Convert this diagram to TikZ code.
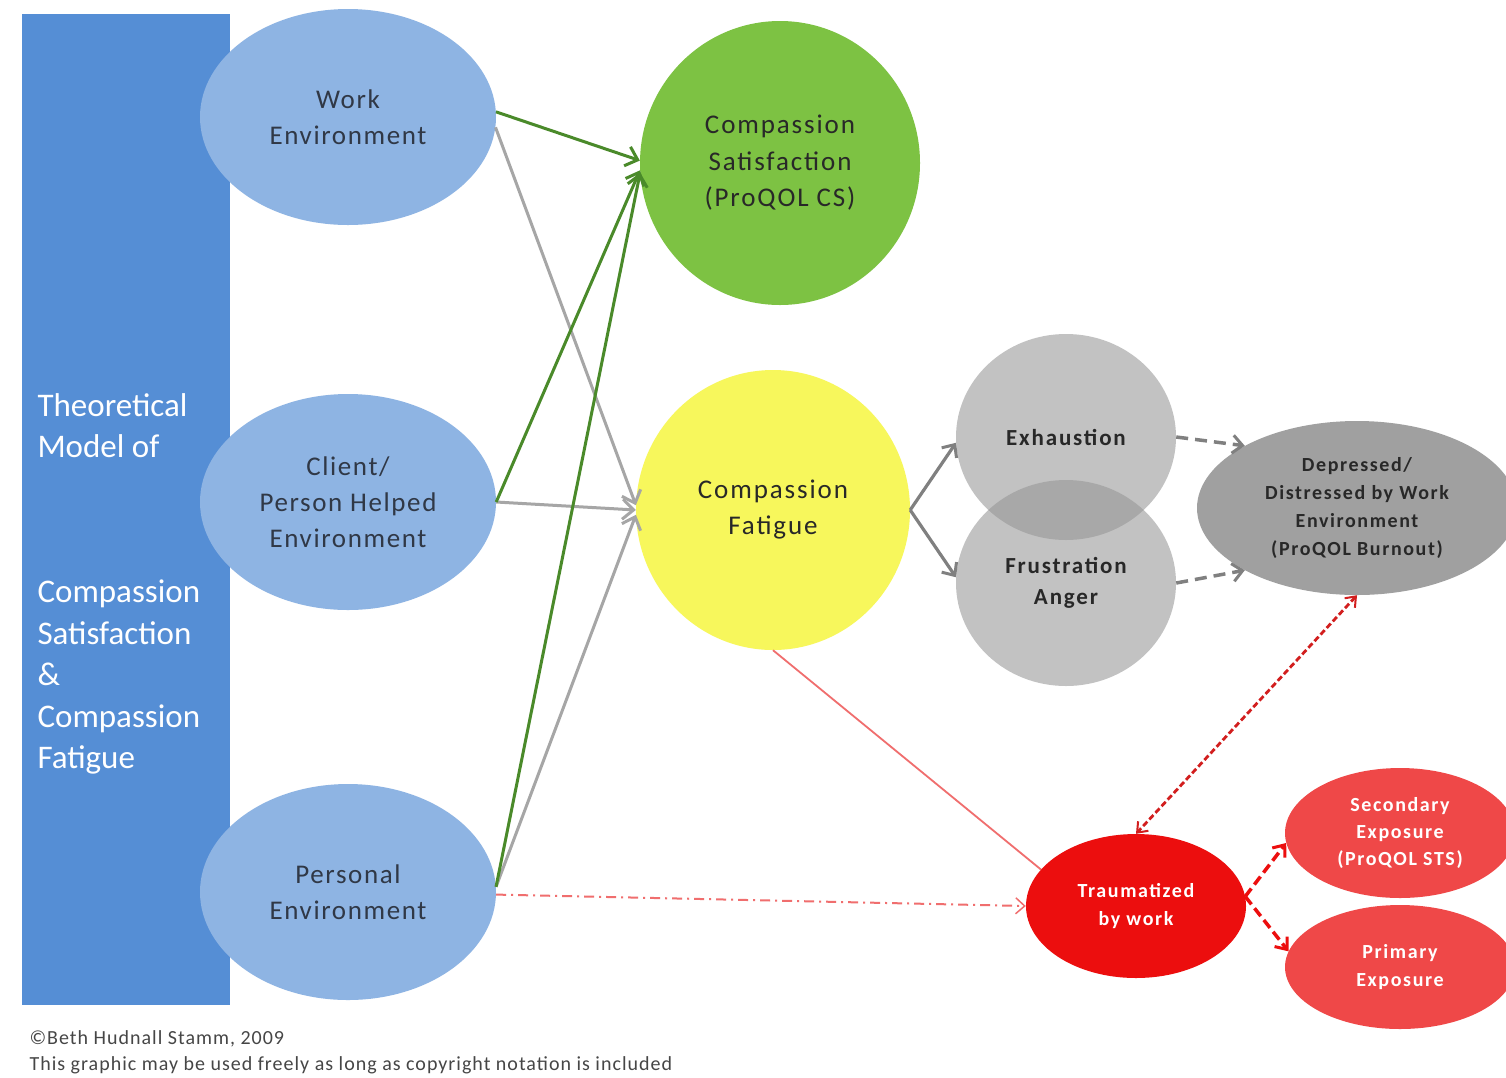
\documentclass[tikz,border=0pt]{standalone}
\usepackage{fontspec}
\setmainfont{Carlito}
\usetikzlibrary{shapes.geometric,arrows.meta}
\definecolor{panelblue}{RGB}{85,142,213}
\definecolor{lblue}{RGB}{142,180,227}
\definecolor{csgreen}{RGB}{125,194,67}
\definecolor{cfyellow}{RGB}{247,247,92}
\definecolor{midgray}{RGB}{149,149,149}
\definecolor{dpgray}{RGB}{160,160,160}
\definecolor{twred}{RGB}{236,14,14}
\definecolor{lred}{RGB}{239,72,72}
\definecolor{txt}{RGB}{40,40,40}
\definecolor{envtxt}{RGB}{48,56,70}
\definecolor{cptxt}{RGB}{70,70,70}
\definecolor{agreen}{RGB}{74,138,42}
\definecolor{agray}{RGB}{166,166,166}
\definecolor{dgray}{RGB}{128,128,128}
\definecolor{thinred}{RGB}{240,110,110}
\definecolor{darkred}{RGB}{210,30,30}
\begin{document}
\begin{tikzpicture}[x=1pt,y=-1pt,
  ell/.style={ellipse, inner sep=0pt, align=center, text=txt},
  envell/.style={ell, fill=lblue, text=envtxt, minimum width=296pt, minimum height=216pt, font=\fontsize{27}{36}\selectfont\addfontfeatures{LetterSpace=6}},
  barb/.style={-{Straight Barb[length=11pt,width=20pt,line width=3pt]}},
  garrow/.style={barb, draw=agreen, line width=3pt},
  grarrow/.style={barb, draw=agray, line width=3pt},
  cfarrow/.style={-{Straight Barb[length=10pt,width=18pt,line width=3pt]}, draw=dgray, line width=3.2pt},
  gdash/.style={-{Straight Barb[length=10pt,width=18pt,line width=3pt]}, draw=dgray, line width=3.5pt, dash pattern=on 12pt off 7pt},
  rdash/.style={-{Straight Barb[length=10pt,width=16pt,line width=3pt]}, draw=twred, line width=3.5pt, dash pattern=on 10pt off 5pt},
  rdouble/.style={{Straight Barb[length=9pt,width=14pt,line width=2pt]}-{Straight Barb[length=9pt,width=14pt,line width=2pt]}, draw=darkred, line width=2.8pt, dash pattern=on 6pt off 3pt},
  rdashdot/.style={-{Straight Barb[length=9pt,width=16pt,line width=1.5pt]}, draw=thinred, line width=2pt, dash pattern=on 10pt off 5pt on 2pt off 5pt},
  rthin/.style={draw=thinred, line width=1.8pt},
  paneltext/.style={anchor=west, align=left, text=white, font=\fontsize{33}{41.5}\selectfont},
  graytext/.style={text=txt, align=center, font=\fontsize{23}{31}\selectfont\bfseries\addfontfeatures{LetterSpace=8}},
]
\fill[white] (0,0) rectangle (1506,1077);
\useasboundingbox (0,0) rectangle (1506,1077);

% left panel
\node[fill=panelblue, minimum width=208pt, minimum height=991pt, inner sep=0pt, anchor=north west] (panel) at (22,14) {};
\node[paneltext] (t1) at (34,425.5) {Theoretical\\Model of};
\node[paneltext] (t2) at (34,677) {Compassion\\Satisfaction\\\&\\Compassion\\Fatigue};

% environment ellipses
\node[envell] (we) at (348,117) {Work\\Environment};
\node[envell] (cl) at (348,502) {Client/\\Person Helped\\Environment};
\node[envell] (pe) at (348,892) {Personal\\Environment};

% main circles
\node[ell, fill=csgreen, minimum width=280pt, minimum height=284pt, font=\fontsize{27}{36.5}\selectfont\addfontfeatures{LetterSpace=7}] (cs) at (780,163) {Compassion\\Satisfaction\\(ProQOL CS)};
\node[ell, fill=cfyellow, minimum width=274pt, minimum height=280pt, font=\fontsize{27}{36}\selectfont\addfontfeatures{LetterSpace=7}] (cf) at (773,510) {Compassion\\Fatigue};

% gray circles
\node[ell, fill=midgray, fill opacity=0.57, minimum width=220pt, minimum height=206pt] (ex) at (1066,437) {};
\node[ell, fill=midgray, fill opacity=0.57, minimum width=220pt, minimum height=206pt] (fa) at (1066,583) {};
\node[graytext] (exl) at (ex.center) {Exhaustion};
\node[graytext] (fal) at (fa.center) {Frustration\\Anger};
\node[ell, fill=dpgray, minimum width=320pt, minimum height=174pt, font=\fontsize{20}{28}\selectfont\bfseries\addfontfeatures{LetterSpace=8}] (dp) at (1357,508) {Depressed/\\Distressed by Work\\Environment\\(ProQOL Burnout)};

% red nodes
\node[ell, fill=twred, text=white, minimum width=220pt, minimum height=144pt, font=\fontsize{20}{28}\selectfont\bfseries\addfontfeatures{LetterSpace=8}] (tw) at (1136,906) {Traumatized\\by work};
\node[ell, fill=lred, text=white, minimum width=230pt, minimum height=130pt, font=\fontsize{20}{27}\selectfont\bfseries\addfontfeatures{LetterSpace=8}] (sec) at (1400,833) {Secondary\\Exposure\\(ProQOL STS)};
\node[ell, fill=lred, text=white, minimum width=230pt, minimum height=124pt, font=\fontsize{20}{28}\selectfont\bfseries\addfontfeatures{LetterSpace=8}] (pr) at (1400,967) {Primary\\Exposure};

% arrows from environments
\draw[grarrow] (we.-4) -- (cf.178);
\draw[grarrow] (cl.east) -- (cf.180);
\draw[grarrow] (pe.2) -- (cf.182);
\draw[garrow] (we.2) -- (cs.179);
\draw[garrow] (cl.east) -- (cs.183);
\draw[garrow] (pe.2) -- (cs.184);

% CF to gray circles
\draw[cfarrow] (cf.east) -- (ex.183);
\draw[cfarrow] (cf.east) -- (fa.177);
\draw[gdash] (ex.east) -- (dp.151);
\draw[gdash] (fa.east) -- (dp.209);

% red connectors
\draw[rthin] (cf.-90) -- (tw.159);
\draw[rdashdot] (pe.-1) -- (tw.west);
\draw[rdouble] (dp.south) -- (tw.north);
\draw[rdash] (tw.5) -- (sec.185);
\draw[rdash] (tw.5) -- (pr.172);

% copyright
\node[anchor=west, align=left, text=cptxt, font=\fontsize{20}{26}\selectfont\addfontfeatures{LetterSpace=5}] (copy) at (26,1052) {©Beth Hudnall Stamm, 2009\\This graphic may be used freely as long as copyright notation is included};
\end{tikzpicture}
\end{document}
